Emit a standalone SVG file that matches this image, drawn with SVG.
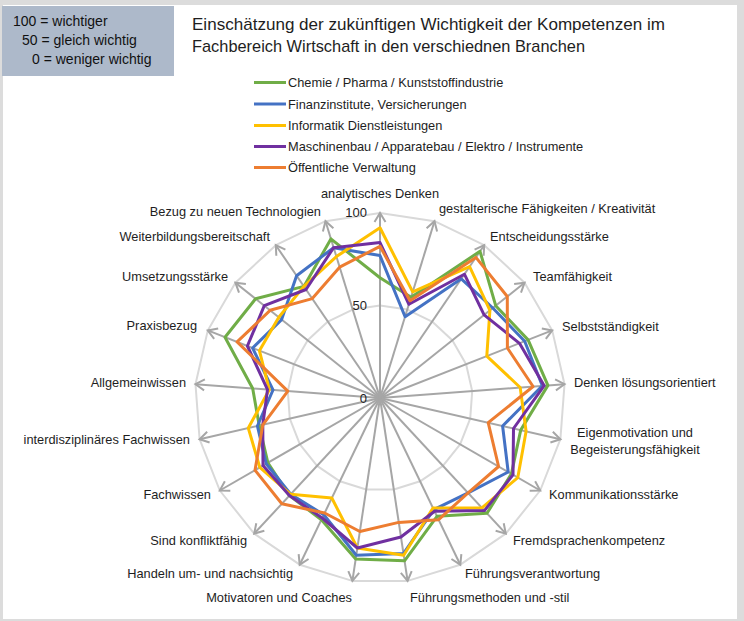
<svg xmlns="http://www.w3.org/2000/svg" width="744" height="621" viewBox="0 0 744 621">
<style>
text{font-family:"Liberation Sans",Arial,sans-serif;fill:#1e1e1e}
.lbl{font-size:12.8px}
.leg{font-size:12.8px}
.ttl{font-size:17px}
.box{font-size:14px;fill:#111}
.tick{font-size:13px}
.ring{fill:none;stroke:#d9d9d9;stroke-width:2;stroke-linejoin:round}
.axis{stroke:#a6a6a6;stroke-width:2;marker-end:url(#arr)}
.s{fill:none;stroke-width:3;stroke-linejoin:round}
.g{stroke:#70ad47}.b{stroke:#4472c4}.y{stroke:#ffc000}.p{stroke:#7030a0}.o{stroke:#ed7d31}
</style>
<defs>
<marker id="arr" markerUnits="userSpaceOnUse" markerWidth="14" markerHeight="14" refX="11" refY="7" orient="auto">
<path d="M2,1.5 L11,7 L2,12.5" fill="none" stroke="#a6a6a6" stroke-width="2"/>
</marker>
</defs>
<rect x="0" y="0" width="744" height="621" fill="#dcdcdc"/>
<rect x="3" y="5" width="734" height="614" fill="#ffffff"/>
<g id="scale-box">
<rect x="2" y="6" width="172" height="70" fill="#adb9ca"/>
<text class="box" x="13" y="26">100 = wichtiger</text>
<text class="box" x="22" y="45">50 = gleich wichtig</text>
<text class="box" x="32" y="64">0 = weniger wichtig</text>
</g>
<g id="title">
<text class="ttl" x="192" y="30" textLength="473" lengthAdjust="spacingAndGlyphs">Einschätzung der zukünftigen Wichtigkeit der Kompetenzen im</text>
<text class="ttl" x="192" y="52" textLength="393" lengthAdjust="spacingAndGlyphs">Fachbereich Wirtschaft in den verschiednen Branchen</text>
</g>
<g id="legend">
<line x1="254" y1="82.5" x2="286" y2="82.5" class="s g"/>
<text class="leg" x="288" y="87">Chemie / Pharma / Kunststoffindustrie</text>
<line x1="254" y1="104" x2="286" y2="104" class="s b"/>
<text class="leg" x="288" y="108.5">Finanzinstitute, Versicherungen</text>
<line x1="254" y1="125.5" x2="286" y2="125.5" class="s y"/>
<text class="leg" x="288" y="130">Informatik Dienstleistungen</text>
<line x1="254" y1="146.5" x2="286" y2="146.5" class="s p"/>
<text class="leg" x="288" y="151">Maschinenbau / Apparatebau / Elektro / Instrumente</text>
<line x1="254" y1="167.5" x2="286" y2="167.5" class="s o"/>
<text class="leg" x="288" y="172">Öffentliche Verwaltung</text>
</g>
<g id="grid">
<polygon class="ring" points="380,213 434.5,221.2 484.2,245.2 524.6,282.7 552.2,330.4 564.5,384.2 560.4,439.2 540.2,490.5 505.8,533.6 460.3,564.7 407.6,580.9 352.4,580.9 299.7,564.7 254.2,533.6 219.8,490.5 199.6,439.2 195.5,384.2 207.8,330.4 235.4,282.7 275.8,245.2 325.5,221.2"/>
<polygon class="ring" points="380,305.5 407.3,309.6 432.1,321.6 452.3,340.3 466.1,364.2 472.2,391.1 470.2,418.6 460.1,444.3 442.9,465.8 420.1,481.3 393.8,489.5 366.2,489.5 339.9,481.3 317.1,465.8 299.9,444.3 289.8,418.6 287.8,391.1 293.9,364.2 307.7,340.3 327.9,321.6 352.7,309.6"/>
</g>
<g id="connectors">
<line class="axis" x1="380" y1="398" x2="380" y2="213"/>
<line class="axis" x1="380" y1="398" x2="434.5" y2="221.2"/>
<line class="axis" x1="380" y1="398" x2="484.2" y2="245.2"/>
<line class="axis" x1="380" y1="398" x2="524.6" y2="282.7"/>
<line class="axis" x1="380" y1="398" x2="552.2" y2="330.4"/>
<line class="axis" x1="380" y1="398" x2="564.5" y2="384.2"/>
<line class="axis" x1="380" y1="398" x2="560.4" y2="439.2"/>
<line class="axis" x1="380" y1="398" x2="540.2" y2="490.5"/>
<line class="axis" x1="380" y1="398" x2="505.8" y2="533.6"/>
<line class="axis" x1="380" y1="398" x2="460.3" y2="564.7"/>
<line class="axis" x1="380" y1="398" x2="407.6" y2="580.9"/>
<line class="axis" x1="380" y1="398" x2="352.4" y2="580.9"/>
<line class="axis" x1="380" y1="398" x2="299.7" y2="564.7"/>
<line class="axis" x1="380" y1="398" x2="254.2" y2="533.6"/>
<line class="axis" x1="380" y1="398" x2="219.8" y2="490.5"/>
<line class="axis" x1="380" y1="398" x2="199.6" y2="439.2"/>
<line class="axis" x1="380" y1="398" x2="195.5" y2="384.2"/>
<line class="axis" x1="380" y1="398" x2="207.8" y2="330.4"/>
<line class="axis" x1="380" y1="398" x2="235.4" y2="282.7"/>
<line class="axis" x1="380" y1="398" x2="275.8" y2="245.2"/>
<line class="axis" x1="380" y1="398" x2="325.5" y2="221.2"/>
</g>
<g id="ticks">
<text class="tick" x="367" y="217" text-anchor="end">100</text>
<text class="tick" x="367" y="310" text-anchor="end">50</text>
<text class="tick" x="367" y="403" text-anchor="end">0</text>
</g>
<g id="series">
<polygon id="s-chemie" class="s g" points="380,277.8 411.1,297.2 480,251.3 495.7,305.7 528.1,339.9 547.9,385.4 520.7,430.1 511.4,473.9 487,513.3 437,516.3 404.5,560.8 355.7,559 321.4,519.7 289.4,495.6 267.9,462.8 259.2,425.6 252.7,388.5 225,337.2 255.6,298.8 303.9,286.4 330.9,238.9"/>
<polygon id="s-finanz" class="s b" points="380,255.6 405.1,316.7 461.3,278.8 492.8,308 524.7,341.2 542.3,385.8 502.6,426 508.2,472 468.1,492.9 433.8,509.7 403.4,553.5 356.3,555.3 323.8,514.7 290.7,494.3 266.2,463.7 257.4,426 273,390 252.6,348 281.6,319.6 296.6,275.7 333.6,247.7"/>
<polygon id="s-informatik" class="s y" points="380,227.8 412.7,291.9 469.6,266.6 489.9,310.3 486.8,356.1 520.2,387.5 526.1,431.3 517.8,477.6 481.9,507.9 433,508 403.7,555.3 357.4,548 331.8,498 290.7,494.3 259.8,467.4 248.3,428 269.3,389.7 259.4,350.7 278.8,317.3 303.9,286.4 336.4,256.6"/>
<polygon id="s-maschinenbau" class="s p" points="380,242.6 408.9,304.3 464.4,274.2 484.1,314.9 519.5,343.3 544.2,385.7 513.5,428.5 513,474.8 484.4,510.6 434.6,511.3 400.9,537 357.4,548 322.2,518 289.4,495.6 263,465.5 262.8,424.8 267.5,389.6 247.4,346 264.3,305.7 306,289.5 333.6,247.7"/>
<polygon id="s-verwaltung" class="s o" points="380,246.3 410,300.8 475.9,257.4 507.3,296.5 507.4,348 533.1,386.5 488.2,422.7 498.6,466.5 468.1,492.9 438.6,519.7 398.7,522.4 359.9,531.5 324.6,513 281.8,503.8 255,470.2 262.8,424.8 287.8,391.1 237.1,341.9 270.1,310.3 312.3,298.6 339.6,267.2"/>
</g>
<g id="labels">
<text class="lbl" x="380" y="198" text-anchor="middle">analytisches Denken</text>
<text class="lbl" x="439" y="213">gestalterische Fähigkeiten / Kreativität</text>
<text class="lbl" x="490" y="241">Entscheidungsstärke</text>
<text class="lbl" x="533" y="281">Teamfähigkeit</text>
<text class="lbl" x="562" y="331">Selbstständigkeit</text>
<text class="lbl" x="574" y="387">Denken lösungsorientiert</text>
<text class="lbl" x="635" y="437" text-anchor="middle">Eigenmotivation und</text>
<text class="lbl" x="635" y="454" text-anchor="middle">Begeisterungsfähigkeit</text>
<text class="lbl" x="549" y="499">Kommunikationsstärke</text>
<text class="lbl" x="513" y="545">Fremdsprachenkompetenz</text>
<text class="lbl" x="465" y="578">Führungsverantwortung</text>
<text class="lbl" x="410" y="602">Führungsmethoden und -stil</text>
<text class="lbl" x="352" y="602" text-anchor="end">Motivatoren und Coaches</text>
<text class="lbl" x="293" y="578" text-anchor="end">Handeln um- und nachsichtig</text>
<text class="lbl" x="247" y="545" text-anchor="end">Sind konfliktfähig</text>
<text class="lbl" x="211" y="499" text-anchor="end">Fachwissen</text>
<text class="lbl" x="190" y="444" text-anchor="end">interdisziplinäres Fachwissen</text>
<text class="lbl" x="186" y="387" text-anchor="end">Allgemeinwissen</text>
<text class="lbl" x="197" y="330" text-anchor="end">Praxisbezug</text>
<text class="lbl" x="228" y="281" text-anchor="end">Umsetzungsstärke</text>
<text class="lbl" x="270" y="241" text-anchor="end">Weiterbildungsbereitschaft</text>
<text class="lbl" x="321" y="216" text-anchor="end">Bezug zu neuen Technologien</text>
</g>
</svg>
